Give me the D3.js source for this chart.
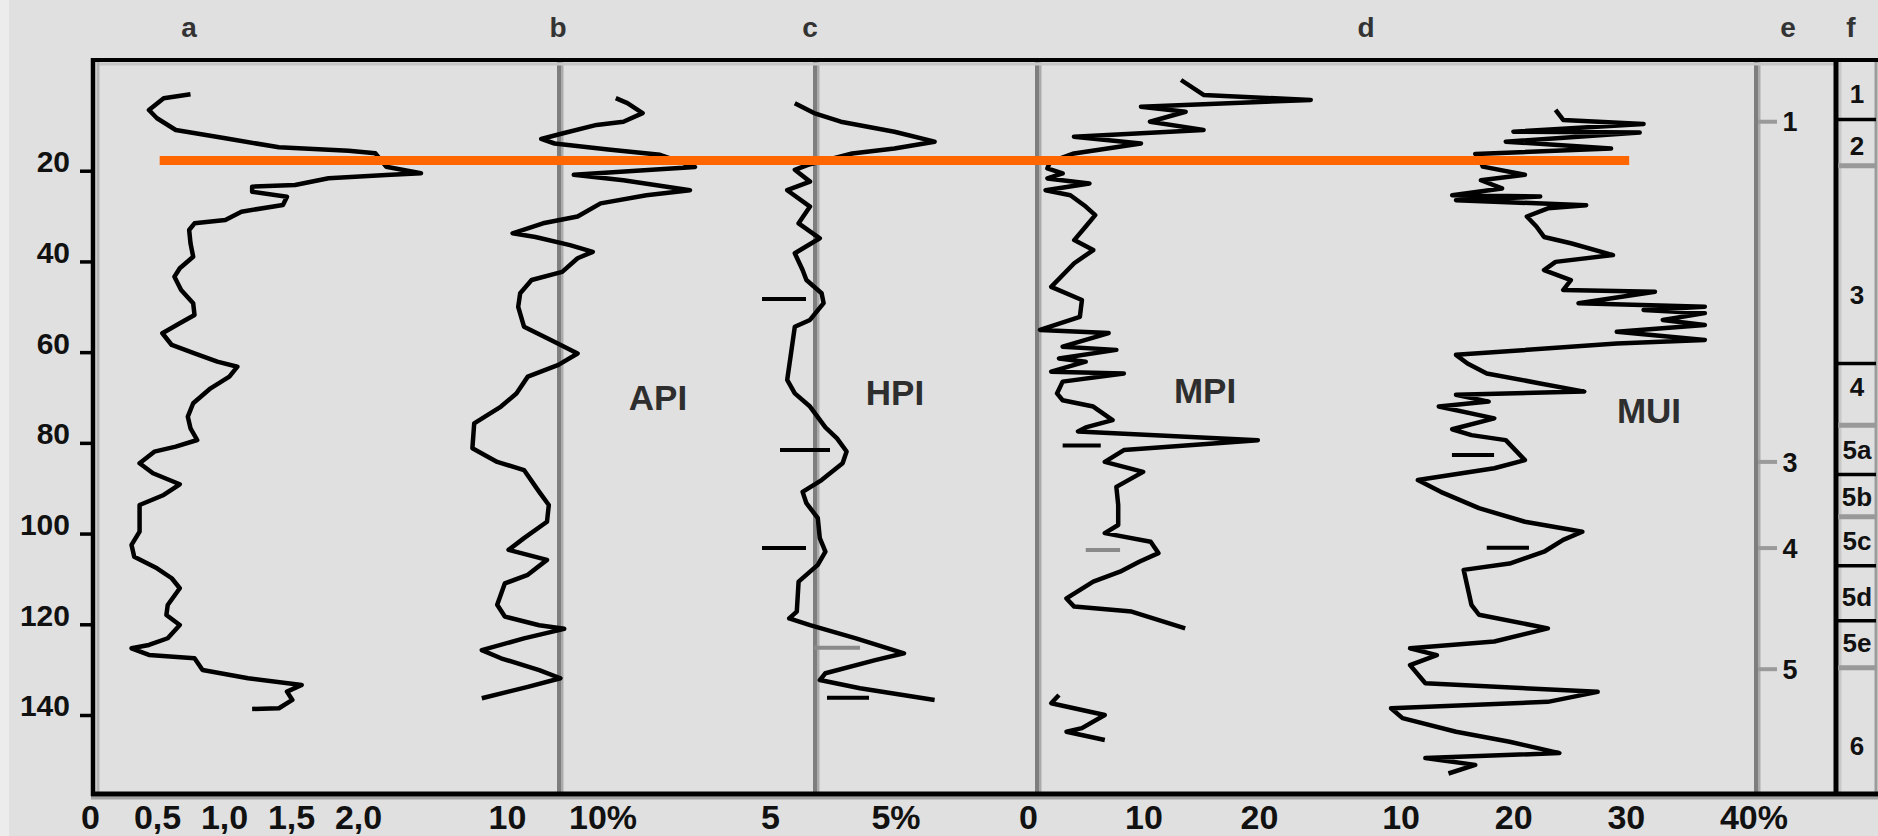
<!DOCTYPE html>
<html>
<head>
<meta charset="utf-8">
<script src="https://cdn.jsdelivr.net/npm/d3@7"></script>
<style>
  html, body { margin: 0; padding: 0; background: #e0e0e0; }
  svg { display: block; }
  text { font-family: "Liberation Sans", Arial, sans-serif; font-weight: bold; }
</style>
</head>
<body>
<svg id="chart" width="1878" height="836"></svg>
<script>
// ---- Core profiles: [depth (cm), value] ----
const curveA = [[3.15,0.75],[4.03,0.55],[6.61,0.44],[8.44,0.5],[11.02,0.64],[12.85,1.01],[14.84,1.41],[15.59,1.93],[16.16,2.13],[19.11,2.21],[20.57,2.47],[20.94,2.21],[21.67,1.78],[23.15,1.53],[23.52,1.21],[24.63,1.21],[25.73,1.47],[27.56,1.44],[29.03,1.13],[30.86,1.01],[31.59,0.78],[33.07,0.74],[36.0,0.75],[38.96,0.77],[41.51,0.67],[43.36,0.63],[46.3,0.68],[49.23,0.77],[51.81,0.78],[53.64,0.67],[55.84,0.54],[58.42,0.61],[60.25,0.78],[62.1,0.95],[63.21,1.1],[65.41,1.04],[67.97,0.9],[71.27,0.77],[74.23,0.73],[76.79,0.75],[79.37,0.8],[80.84,0.64],[81.94,0.48],[84.5,0.37],[86.71,0.47],[89.13,0.67],[91.49,0.55],[93.7,0.37],[99.58,0.37],[102.51,0.31],[105.09,0.33],[107.65,0.5],[109.85,0.61],[112.06,0.67],[115.74,0.58],[117.94,0.57],[120.15,0.67],[123.08,0.58],[124.56,0.44],[125.29,0.31],[126.76,0.44],[127.49,0.78],[130.07,0.84],[131.9,1.18],[133.38,1.58],[134.85,1.47],[136.68,1.51],[138.51,1.41],[138.67,1.21]];

const curveAPI = [[4.0,15.44],[5.1,16.02],[7.3,16.78],[9.2,15.82],[9.9,14.48],[11.8,12.76],[13.0,11.71],[14.0,12.38],[15.3,15.06],[16.5,17.65],[19.2,19.4],[20.9,13.34],[22.1,15.82],[24.3,19.15],[25.4,16.97],[27.2,14.68],[30.1,13.53],[31.6,11.8],[33.8,10.28],[34.6,11.42],[36.4,13.15],[37.9,14.29],[39.3,13.53],[42.3,12.76],[44.1,11.23],[47.0,10.66],[50.0,10.56],[54.4,10.85],[57.3,12.19],[60.3,13.53],[62.8,12.57],[65.4,11.04],[69.1,10.47],[72.0,9.7],[75.7,8.36],[81.2,8.27],[84.2,9.51],[86.0,10.85],[90.8,11.61],[93.7,12.09],[97.4,12.0],[101.0,10.85],[103.6,10.08],[105.8,12.0],[109.1,11.04],[111.0,9.89],[115.7,9.51],[118.3,9.89],[120.2,11.61],[121.0,12.86],[123.1,10.85],[125.7,8.74],[127.5,9.7],[130.1,11.61],[131.9,12.67],[133.8,11.04],[136.3,8.74]];

const curveHPI = [[5.1,6.24],[7.3,7.2],[9.2,8.54],[11.4,11.22],[13.6,13.23],[15.1,11.22],[16.2,9.11],[18.7,6.9],[19.8,6.24],[22.4,7.0],[24.3,5.86],[27.9,7.0],[31.6,6.43],[34.9,7.49],[38.2,6.24],[41.9,6.63],[44.1,6.82],[47.0,7.58],[49.2,7.68],[52.9,7.0],[54.4,6.24],[60.3,6.05],[66.1,5.86],[69.1,6.24],[72.0,7.0],[76.6,7.77],[79.0,8.35],[81.9,8.83],[84.5,8.63],[88.2,7.58],[90.8,6.63],[93.3,6.82],[96.6,7.39],[101.0,7.49],[104.0,7.77],[106.9,7.39],[110.6,6.43],[117.2,6.34],[118.7,5.96],[120.2,7.0],[123.1,9.3],[126.4,11.7],[127.9,10.26],[130.8,7.77],[132.3,7.49],[134.1,9.5],[136.7,13.23]];

const curveMPI = [[0,13.25],[3.3,15.2],[4.4,24.48],[5.9,9.78],[7.0,13.65],[9.2,10.56],[11.0,15.2],[12.5,3.98],[14.0,9.78],[16.2,3.98],[18.1,1.9],[19.5,1.68],[20.6,3.0],[21.7,1.68],[22.8,5.32],[24.3,1.52],[25.4,3.67],[27.9,5.0],[29.8,5.82],[32.3,5.0],[35.3,4.0],[37.5,5.65],[40.4,4.0],[45.6,2.01],[48.5,4.67],[52.2,4.49],[55.1,1.04],[55.8,6.98],[58.8,3.0],[59.5,7.65],[61.4,2.68],[62.1,5.0],[64.3,2.01],[64.7,8.3],[66.5,3.0],[69.1,2.51],[70.6,3.0],[72.0,5.65],[75.0,7.32],[76.6,5.0],[77.5,4.33],[79.4,19.9],[81.6,8.3],[84.2,6.65],[86.4,9.97],[89.7,7.65],[93.7,7.81],[98.1,7.81],[99.9,6.65],[101.8,10.62],[104.3,11.29],[106.2,9.63],[108.4,7.97],[110.6,5.65],[114.3,3.33],[116.1,4.0],[117.2,8.97],[120.9,13.61]];
const curveMPILower = [[135.6,2.68],[137.4,2.01],[140.0,6.65],[142.9,4.67],[143.7,3.33],[145.5,6.65]];

const curveMUI = [[6.6,23.76],[8.8,24.44],[9.7,31.58],[11.4,20.02],[11.6,31.23],[13.6,19.34],[15.1,28.69],[16.3,16.63],[17.6,17.05],[19.1,17.3],[20.9,21.04],[22.1,17.13],[23.9,19.01],[25.4,14.58],[25.7,22.4],[26.5,14.92],[27.6,26.48],[28.3,23.08],[30.1,21.21],[32.3,22.06],[34.6,22.74],[36.0,25.12],[38.6,28.86],[40.1,23.76],[41.9,22.74],[44.1,25.12],[46.3,24.44],[46.7,32.59],[49.2,25.8],[50.0,37.02],[50.7,31.58],[51.4,37.02],[52.9,33.28],[54.0,37.02],[55.5,29.2],[57.3,37.02],[58.1,29.2],[60.6,14.92],[62.5,15.94],[64.7,17.65],[66.9,22.4],[68.7,26.31],[69.4,14.92],[70.9,17.82],[72.0,13.39],[74.6,18.32],[77.0,14.58],[78.3,16.29],[79.4,19.34],[83.8,21.04],[85.6,18.32],[88.2,11.53],[90.8,13.56],[94.4,16.96],[97.4,21.04],[99.6,26.14],[101.4,24.44],[104.0,22.74],[106.6,19.68],[108.0,15.6],[115.7,16.29],[117.9,16.96],[120.9,23.08],[123.8,18.32],[125.3,10.84],[126.8,13.22],[129.0,10.84],[133.0,12.2],[134.9,27.5],[137.1,23.08],[138.5,9.15],[140.7,10.17],[143.7,14.92],[145.9,19.68],[148.4,24.1],[149.5,12.2],[151.0,16.63],[152.9,14.25]];

// Short horizontal marks beside the curves: [depth, from value, to value]
const marksHPI = [[48.3,4.6,6.8],[81.6,5.5,8.0],[103.2,4.6,6.8],[136.2,7.85,9.95]];
const marksHPIGray = [[125.2,7.2,9.5]];
const marksMPI = [[80.6,3.0,6.3]];
const marksMPIGray = [[103.6,5.0,7.97]];
const marksMUI = [[82.7,14.56,18.3],[103.1,17.65,21.4]];

// Horizon marked across the profiles
const horizonDepth = 17.75;

// Depth axis and value axes
const depthTicks = [20, 40, 60, 80, 100, 120, 140];
const ticksA = [0, 0.5, 1.0, 1.5, 2.0];
const ticksAPI = [10];
const ticksHPI = [5];
const ticksMPI = [0, 10, 20];
const ticksMUI = [10, 20, 30, 40];

// Column e: numbered levels
const eDepths = [9.2, 84.2, 103.2, 129.9];
const eLabels = ["1", "3", "4", "5"];

// Column f: units
const fBounds = [8.7, 18.9, 62.5, 76.1, 87.0, 96.3, 107.1, 119.2, 129.6];
const fBoundKind = ["k", "g", "k", "g", "k", "g", "k", "k", "g"];
const fLabels = ["1", "2", "3", "4", "5a", "5b", "5c", "5d", "5e", "6"];
const fLabelDepths = [2.9, 14.5, 47.4, 67.7, 81.6, 91.9, 101.6, 113.8, 124.1, 146.8];

const columnLetters = ["a", "b", "c", "d", "e", "f"];

// ---- Layout ----
const W = 1878, H = 836;
const frameTop = 60, frameBottom = 794, frameLeft = 93, frameRight = 1878;
const colLines = [559, 815, 1037, 1756];      // inner column dividers
const letterX = [189, 558, 810, 1366, 1788, 1851];
const fSep = 1836, fEdge = 1876;

const svg = d3.select("#chart");
svg.append("rect").attr("width", W).attr("height", H).attr("fill", "#e0e0e0");
svg.append("rect").attr("width", 9).attr("height", H).attr("fill", "#ececec");

const y = d3.scaleLinear().domain([0, 140]).range([80, 715]);
const xA = d3.scaleLinear().domain([0, 2]).range([90, 358]);
const xAPI = d3.scaleLinear().domain([10, 20]).range([507, 707]);
const xHPI = d3.scaleLinear().domain([5, 10]).range([770, 870]);
const xMPI = d3.scaleLinear().domain([0, 20]).range([1028, 1259]);
const xMUI = d3.scaleLinear().domain([10, 40]).range([1400.6, 1738.4]);

// Column dividers (dark core with a lighter edge)
colLines.forEach(x => {
  svg.append("line").attr("x1", x + 3).attr("x2", x + 3).attr("y1", frameTop + 2).attr("y2", frameBottom - 2)
    .attr("stroke", "#ababab").attr("stroke-width", 3);
  svg.append("line").attr("x1", x).attr("x2", x).attr("y1", frameTop + 2).attr("y2", frameBottom - 2)
    .attr("stroke", "#7e7e7e").attr("stroke-width", 4);
});

// Frame
svg.append("line").attr("x1", frameLeft + 4).attr("x2", fSep).attr("y1", frameTop + 4).attr("y2", frameTop + 4)
  .attr("stroke", "#c6c6c6").attr("stroke-width", 3);
svg.append("line").attr("x1", frameLeft + 5).attr("x2", frameLeft + 5).attr("y1", frameTop + 2).attr("y2", frameBottom)
  .attr("stroke", "#b4b4b4").attr("stroke-width", 3);
svg.append("line").attr("x1", frameLeft - 2).attr("x2", frameRight).attr("y1", frameBottom + 4).attr("y2", frameBottom + 4)
  .attr("stroke", "#a4a4a4").attr("stroke-width", 3);
svg.append("line").attr("x1", fSep + 4).attr("x2", fSep + 4).attr("y1", frameTop + 2).attr("y2", frameBottom)
  .attr("stroke", "#c8c8c8").attr("stroke-width", 3);
svg.append("line").attr("x1", fEdge).attr("x2", fEdge).attr("y1", frameTop).attr("y2", frameBottom)
  .attr("stroke", "#9c9c9c").attr("stroke-width", 3);
svg.append("line").attr("x1", frameLeft - 2).attr("x2", frameRight).attr("y1", frameTop).attr("y2", frameTop)
  .attr("stroke", "#000").attr("stroke-width", 4);
svg.append("line").attr("x1", frameLeft - 2).attr("x2", frameRight).attr("y1", frameBottom).attr("y2", frameBottom)
  .attr("stroke", "#000").attr("stroke-width", 5);
svg.append("line").attr("x1", frameLeft).attr("x2", frameLeft).attr("y1", frameTop - 2).attr("y2", frameBottom + 2)
  .attr("stroke", "#000").attr("stroke-width", 4.5);
svg.append("line").attr("x1", fSep).attr("x2", fSep).attr("y1", frameTop - 2).attr("y2", frameBottom + 2)
  .attr("stroke", "#000").attr("stroke-width", 5);

// Depth axis
const yAxis = svg.append("g").attr("transform", `translate(${frameLeft - 1},0)`)
  .call(d3.axisLeft(y).tickValues(depthTicks).tickSize(12).tickPadding(10).tickFormat(d3.format("d")));
yAxis.select(".domain").remove();
yAxis.selectAll(".tick line").attr("stroke", "#000").attr("stroke-width", 3.5);
yAxis.selectAll(".tick text").attr("font-size", 30).attr("fill", "#111").attr("dy", "0.03em");

// Value axes along the bottom
const fmtA = v => v === 0 ? "0" : v.toFixed(1).replace(".", ",");
function bottomAxis(scale, ticks, fmt) {
  const g = svg.append("g").attr("transform", `translate(0,${frameBottom})`)
    .call(d3.axisBottom(scale).tickValues(ticks).tickSize(0).tickPadding(11).tickFormat(fmt));
  g.select(".domain").remove();
  g.selectAll(".tick text").attr("font-size", 34).attr("fill", "#111");
  return g;
}
bottomAxis(xA, ticksA, fmtA);
bottomAxis(xAPI, ticksAPI, d3.format("d"));
bottomAxis(xHPI, ticksHPI, d3.format("d"));
bottomAxis(xMPI, ticksMPI, d3.format("d"));
const gMUI = bottomAxis(xMUI, ticksMUI, v => v === 40 ? "40%" : String(v));
gMUI.selectAll(".tick text").filter(v => v === 40).attr("text-anchor", "start").attr("dx", -19);

// Percent notes next to the API and HPI axes
[["10%", xAPI(14.8)], ["5%", xHPI(11.3)]].forEach(([t, x]) => {
  svg.append("text").attr("x", x).attr("y", frameBottom + 11).attr("dy", "0.71em")
    .attr("text-anchor", "middle").attr("font-size", 34).attr("fill", "#111").text(t);
});

// Column letters
columnLetters.forEach((t, i) => {
  svg.append("text").attr("x", letterX[i]).attr("y", 37).attr("text-anchor", "middle")
    .attr("font-size", 28).attr("fill", "#333").text(t);
});

// Profile curves
function profile(data, xs) {
  svg.append("path").datum(data)
    .attr("d", d3.line().x(d => xs(d[1])).y(d => y(d[0])))
    .attr("fill", "none").attr("stroke", "#000").attr("stroke-width", 4.5)
    .attr("stroke-linejoin", "round").attr("stroke-linecap", "butt");
}
profile(curveA, xA);
profile(curveAPI, xAPI);
profile(curveHPI, xHPI);
profile(curveMPI, xMPI);
profile(curveMPILower, xMPI);
profile(curveMUI, xMUI);

function marks(data, xs, color) {
  svg.selectAll(null).data(data).enter().append("line")
    .attr("x1", d => xs(d[1])).attr("x2", d => xs(d[2]))
    .attr("y1", d => y(d[0])).attr("y2", d => y(d[0]))
    .attr("stroke", color).attr("stroke-width", 4);
}
marks(marksHPI, xHPI, "#000");
marks(marksHPIGray, xHPI, "#8a8a8a");
marks(marksMPI, xMPI, "#000");
marks(marksMPIGray, xMPI, "#8a8a8a");
marks(marksMUI, xMUI, "#000");

// Index names
[["API", 658, 410], ["HPI", 895, 405], ["MPI", 1205, 403], ["MUI", 1649, 423]].forEach(([t, x, yy]) => {
  svg.append("text").attr("x", x).attr("y", yy).attr("text-anchor", "middle")
    .attr("font-size", 35).attr("fill", "#2e2e2e").text(t);
});

// Column e: numbered levels
eDepths.forEach((d, i) => {
  svg.append("line").attr("x1", 1758).attr("x2", 1777).attr("y1", y(d)).attr("y2", y(d))
    .attr("stroke", "#9a9a9a").attr("stroke-width", 4);
  svg.append("text").attr("x", 1790).attr("y", y(d)).attr("dy", "0.36em").attr("text-anchor", "middle")
    .attr("font-size", 27).attr("fill", "#111").text(eLabels[i]);
});

// Column f: unit boundaries and names
fBounds.forEach((d, i) => {
  const gray = fBoundKind[i] === "g";
  svg.append("line").attr("x1", fSep + 2).attr("x2", fEdge).attr("y1", y(d)).attr("y2", y(d))
    .attr("stroke", gray ? "#999" : "#000").attr("stroke-width", gray ? 5 : 3.5);
});
fLabels.forEach((t, i) => {
  svg.append("text").attr("x", 1857).attr("y", y(fLabelDepths[i])).attr("dy", "0.36em")
    .attr("text-anchor", "middle").attr("font-size", 26).attr("fill", "#111").text(t);
});

// Horizon line
svg.append("line").attr("x1", xA(0.52)).attr("x2", xMUI(30.3))
  .attr("y1", y(horizonDepth)).attr("y2", y(horizonDepth))
  .attr("stroke", "#ff6600").attr("stroke-width", 9);
</script>
</body>
</html>
